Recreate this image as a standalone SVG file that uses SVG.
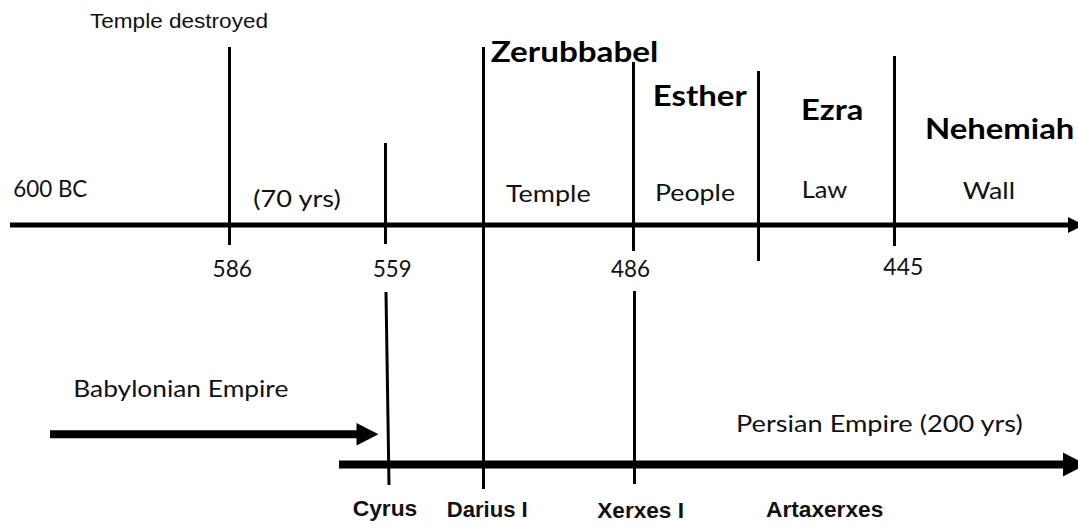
<svg xmlns="http://www.w3.org/2000/svg" width="1078" height="525" viewBox="0 0 1078 525">
<style>
.ln{stroke:#000;stroke-width:3;fill:none}
.ax{stroke:#000;stroke-width:5;fill:none}
.ax2{stroke:#000;stroke-width:8;fill:none}
.hd{fill:#000}
.c{font-family:Lato,"Open Sans","Liberation Sans",sans-serif;font-size:24px;fill:#111}
.n{font-family:Lato,"Open Sans","Liberation Sans",sans-serif;font-size:22.5px;fill:#111}
.cb{font-family:Lato,"Open Sans","Liberation Sans",sans-serif;font-size:29px;font-weight:700;fill:#000}
.a{font-family:"Liberation Sans",Arial,sans-serif;font-size:19.5px;fill:#111}
.ab{font-family:"Liberation Sans",Arial,sans-serif;font-size:22px;font-weight:700;fill:#111}
</style>
<rect width="1078" height="525" fill="#fff"/>
<g id="connectors">
  <line class="ax" x1="10" y1="225" x2="1070" y2="225"/>
  <polygon class="hd" points="1068,217 1084,225 1068,233"/>
  <line class="ax2" x1="339" y1="464.5" x2="1066" y2="464.5"/>
  <polygon class="hd" points="1063,452.5 1086,464.5 1063,476.5"/>
  <line class="ax2" x1="50" y1="434.3" x2="358" y2="434.3"/>
  <polygon class="hd" points="356.5,423 378.5,434.3 356.5,445.6"/>
  <line class="ln" x1="229.5" y1="47" x2="229.5" y2="245"/>
  <line class="ln" x1="385.5" y1="143" x2="385.5" y2="244"/>
  <line class="ln" x1="483.5" y1="47" x2="483.5" y2="489"/>
  <line class="ln" x1="633.5" y1="62" x2="633.5" y2="251"/>
  <line class="ln" x1="758.5" y1="71" x2="758.5" y2="261"/>
  <line class="ln" x1="894.5" y1="56" x2="894.5" y2="246"/>
  <line class="ln" x1="386" y1="292" x2="389" y2="485"/>
  <line class="ln" x1="634.5" y1="291" x2="634.5" y2="484"/>
</g>
<g id="top-labels">
  <text class="a" x="90" y="27.5" textLength="178" lengthAdjust="spacingAndGlyphs">Temple destroyed</text>
  <text class="cb" x="490.7" y="61.7" textLength="167.6" lengthAdjust="spacingAndGlyphs">Zerubbabel</text>
  <text class="cb" x="652.7" y="105.7" textLength="94" lengthAdjust="spacingAndGlyphs">Esther</text>
  <text class="cb" x="801" y="120" textLength="62.3" lengthAdjust="spacingAndGlyphs">Ezra</text>
  <text class="cb" x="925" y="138.7" textLength="149.3" lengthAdjust="spacingAndGlyphs">Nehemiah</text>
</g>
<g id="period-labels">
  <text class="c" x="13.3" y="196.7" textLength="74" lengthAdjust="spacingAndGlyphs">600 BC</text>
  <text class="c" x="253.3" y="206.7" textLength="87.4" lengthAdjust="spacingAndGlyphs">(70 yrs)</text>
  <text class="c" x="506" y="201.7" textLength="84.7" lengthAdjust="spacingAndGlyphs">Temple</text>
  <text class="c" x="655" y="200.7" textLength="80" lengthAdjust="spacingAndGlyphs">People</text>
  <text class="c" x="801.7" y="198.3" textLength="45.6" lengthAdjust="spacingAndGlyphs">Law</text>
  <text class="c" x="962.7" y="199" textLength="52.3" lengthAdjust="spacingAndGlyphs">Wall</text>
</g>
<g id="years">
  <text class="n" x="212.5" y="276.7" textLength="39.5" lengthAdjust="spacingAndGlyphs">586</text>
  <text class="n" x="373" y="276.7" textLength="38.5" lengthAdjust="spacingAndGlyphs">559</text>
  <text class="n" x="611" y="276.7" textLength="39" lengthAdjust="spacingAndGlyphs">486</text>
  <text class="n" x="883.3" y="275" textLength="40" lengthAdjust="spacingAndGlyphs">445</text>
</g>
<g id="empires">
  <text class="c" x="73.3" y="397.3" textLength="215" lengthAdjust="spacingAndGlyphs">Babylonian Empire</text>
  <text class="c" x="736" y="431.7" textLength="286.7" lengthAdjust="spacingAndGlyphs">Persian Empire (200 yrs)</text>
</g>
<g id="kings">
  <text class="ab" x="352.7" y="515.7" textLength="64.6" lengthAdjust="spacingAndGlyphs">Cyrus</text>
  <text class="ab" x="446.7" y="516.7" textLength="81" lengthAdjust="spacingAndGlyphs">Darius I</text>
  <text class="ab" x="597.3" y="518.3" textLength="86.7" lengthAdjust="spacingAndGlyphs">Xerxes I</text>
  <text class="ab" x="766" y="516.7" textLength="117.3" lengthAdjust="spacingAndGlyphs">Artaxerxes</text>
</g>
</svg>
